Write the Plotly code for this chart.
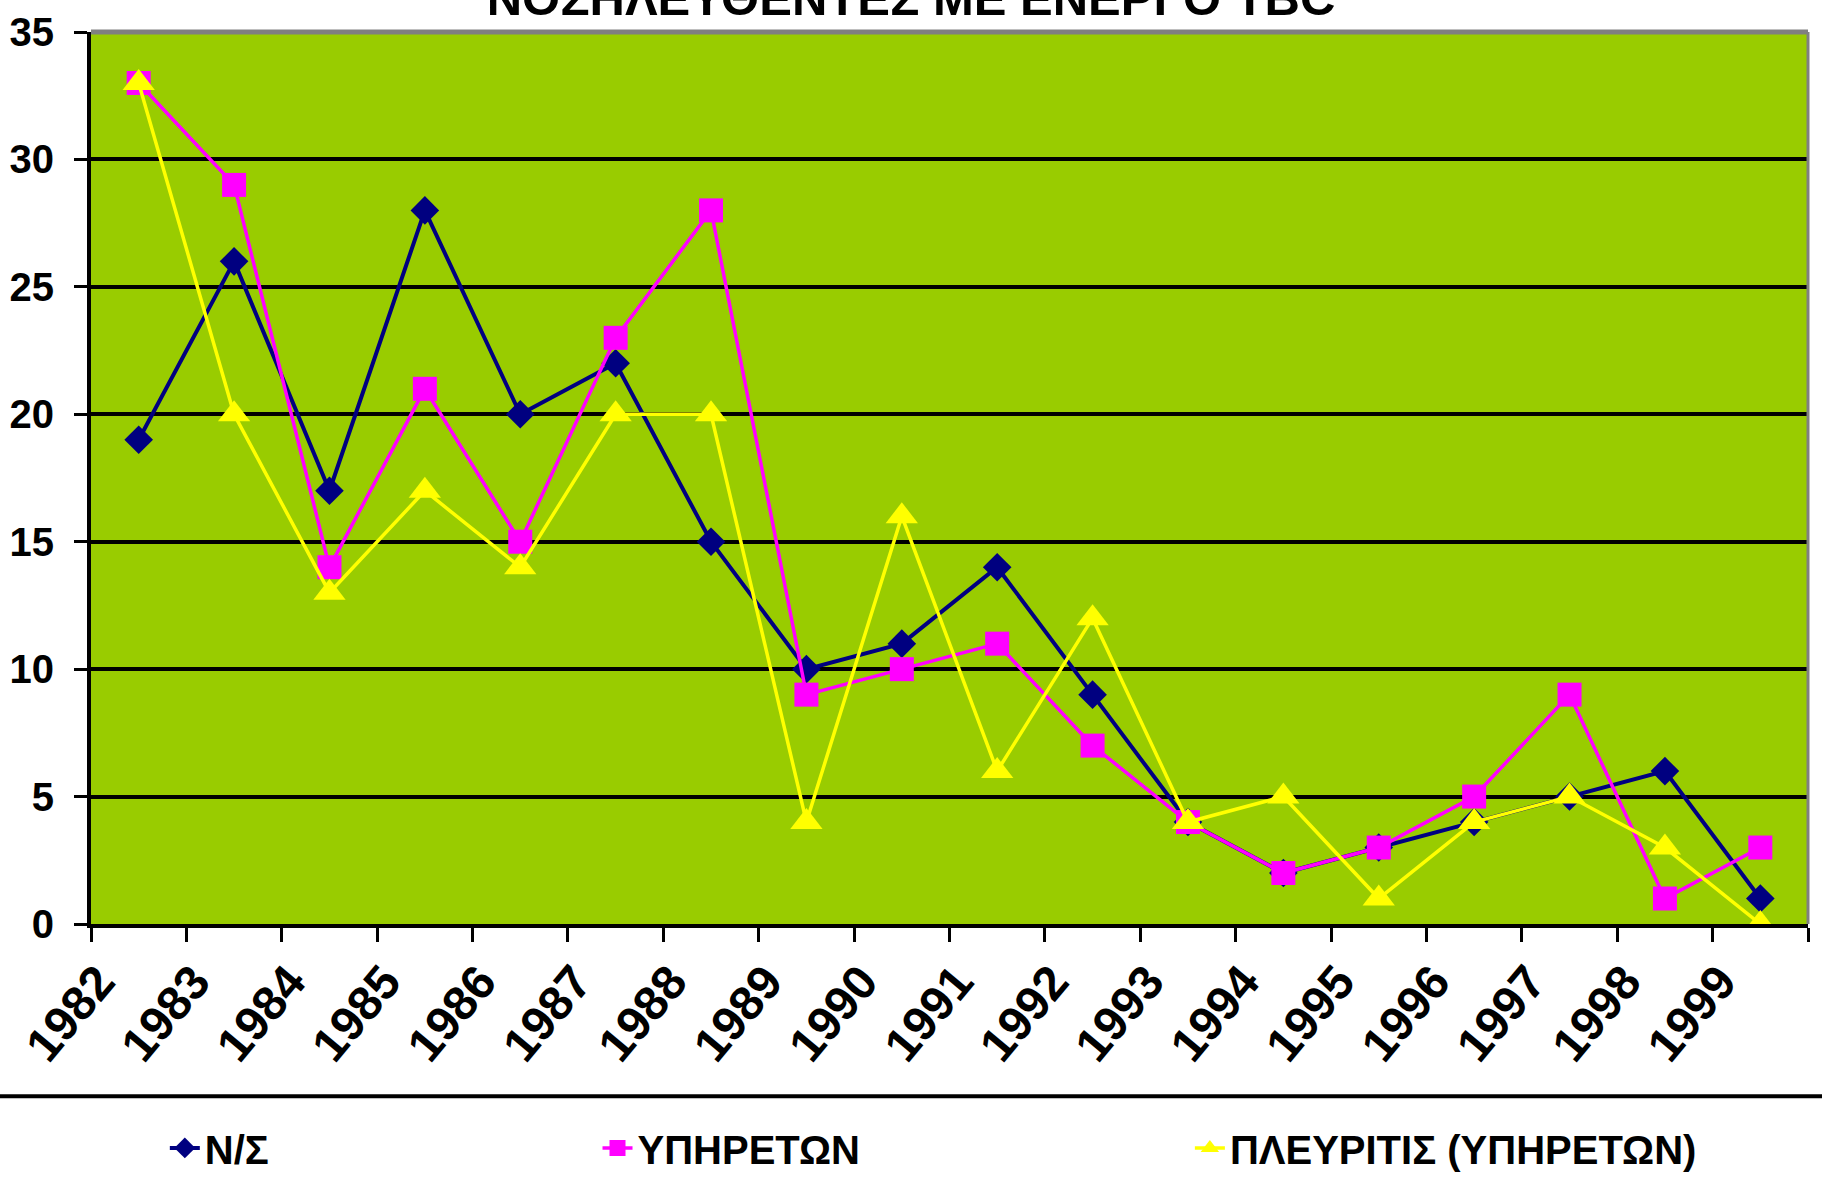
import plotly.graph_objects as go

years = [str(y) for y in range(1982, 2000)]
ns = [19, 26, 17, 28, 20, 22, 15, 10, 11, 14, 9, 4, 2, 3, 4, 5, 6, 1]
yphreton = [33, 29, 14, 21, 15, 23, 28, 9, 10, 11, 7, 4, 2, 3, 5, 9, 1, 3]
pleyritis = [33, 20, 13, 17, 14, 20, 20, 4, 16, 6, 12, 4, 5, 1, 4, 5, 3, 0]

FONT = "Liberation Sans, Arial, sans-serif"

fig = go.Figure()
fig.add_trace(go.Scatter(x=years, y=ns, name="Ν/Σ", mode="lines+markers",
                         line=dict(color="#000080", width=4),
                         marker=dict(symbol="diamond", size=22, color="#000080"),
                         legend="legend"))
fig.add_trace(go.Scatter(x=years, y=yphreton, name="ΥΠΗΡΕΤΩΝ", mode="lines+markers",
                         line=dict(color="#FF00FF", width=3.5),
                         marker=dict(symbol="square", size=24, color="#FF00FF"),
                         legend="legend2"))
fig.add_trace(go.Scatter(x=years, y=pleyritis, name="ΠΛΕΥΡΙΤΙΣ (ΥΠΗΡΕΤΩΝ)", mode="lines+markers",
                         line=dict(color="#FFFF00", width=3.5),
                         marker=dict(symbol="triangle-up", size=28, color="#FFFF00"),
                         legend="legend3"))

legfont = dict(family=FONT, size=40, color="black", weight="bold")
fig.update_layout(
    width=1822, height=1178,
    margin=dict(l=91, r=14, t=32, b=254, autoexpand=False),
    paper_bgcolor="white",
    plot_bgcolor="#99CC00",
    showlegend=True,
    title=dict(text="ΝΟΣΗΛΕΥΘΕΝΤΕΣ ΜΕ ΕΝΕΡΓΟ TBC", x=0.5, xanchor="center",
               y=0.987, yanchor="bottom",
               font=dict(family=FONT, size=49, color="black", weight="bold")),
    legend=dict(x=0.043, y=-0.251, xanchor="left", yanchor="middle", font=legfont,
                bgcolor="rgba(0,0,0,0)"),
    legend2=dict(x=0.295, y=-0.251, xanchor="left", yanchor="middle", font=legfont,
                 bgcolor="rgba(0,0,0,0)"),
    legend3=dict(x=0.640, y=-0.251, xanchor="left", yanchor="middle", font=legfont,
                 bgcolor="rgba(0,0,0,0)"),
)

fig.update_xaxes(type="category", range=[-0.5, len(years) - 0.5],
                 tickson="boundaries", ticks="outside", ticklen=14,
                 tickwidth=3, tickcolor="black", showgrid=False, automargin=False,
                 showline=True, linecolor="black", linewidth=4,
                 tickangle=-50, ticklabelshift=-40, ticklabelstandoff=6,
                 tickfont=dict(family=FONT, size=48, color="black", weight="bold"))
fig.update_yaxes(range=[0, 35], dtick=5, ticks="outside", ticklen=13, tickwidth=3,
                 tickcolor="black", showgrid=True, gridcolor="black", gridwidth=4,
                 showline=True, linecolor="black", linewidth=4, zeroline=False,
                 ticklabelstandoff=12, automargin=False,
                 tickfont=dict(family=FONT, size=40, color="black", weight="bold"))

# grey frame at top and right of plot area, separator line above legend
fig.add_shape(type="line", xref="paper", yref="paper", x0=0, x1=1, y0=1, y1=1,
              line=dict(color="#808080", width=5), layer="above")
fig.add_shape(type="line", xref="paper", yref="paper", x0=1, x1=1, y0=0, y1=1,
              line=dict(color="#808080", width=3), layer="above")
fig.add_shape(type="line", xref="paper", yref="paper", x0=-0.06, x1=1.01,
              y0=-0.193, y1=-0.193, line=dict(color="black", width=4))

# page body has a default 8px margin; drop it so the figure fills the window
fig.write_html("out.html", config={"displayModeBar": False},
               post_script="document.body.style.margin='0px';")
